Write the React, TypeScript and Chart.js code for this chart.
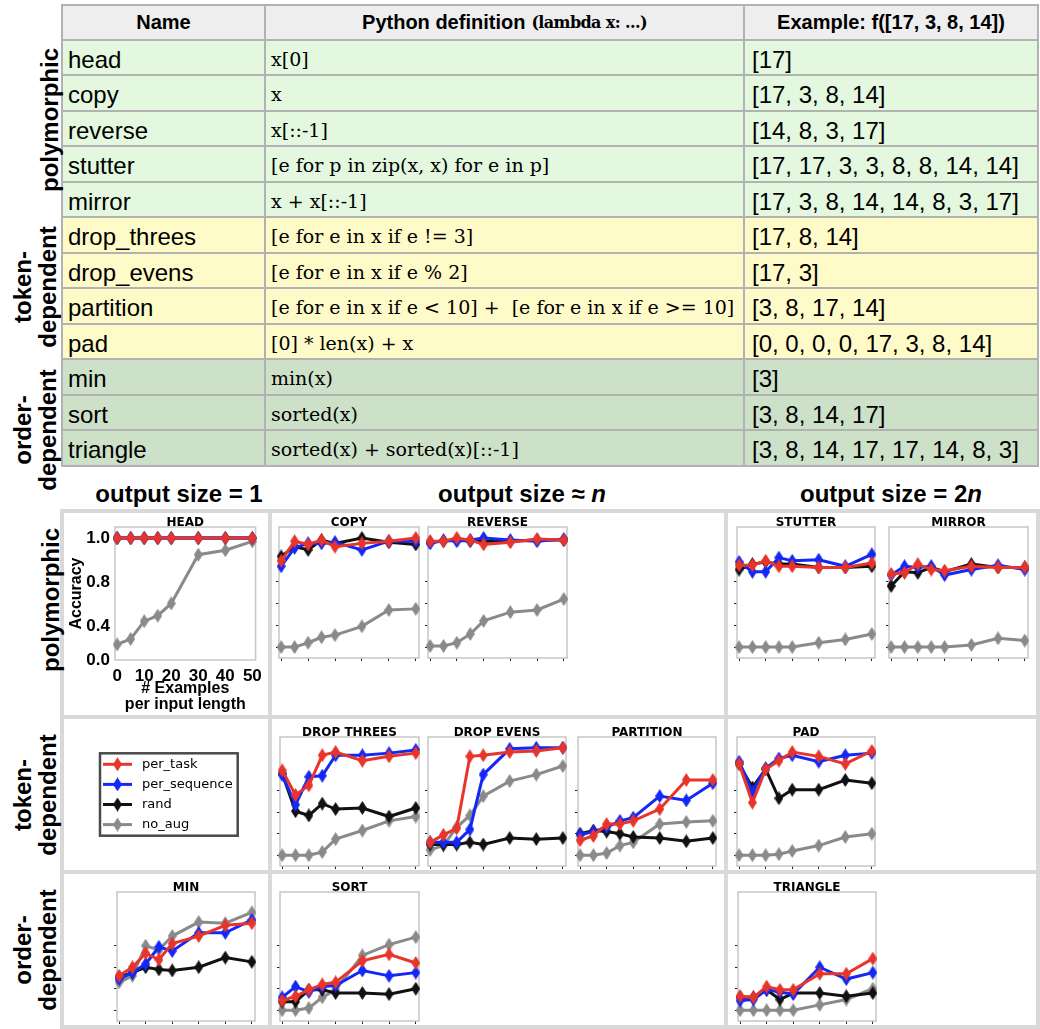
import React, { useEffect, useRef } from 'react';
import { Chart, registerables } from 'chart.js';

Chart.register(...registerables);

const SANS = '"Liberation Sans", Arial, Helvetica, sans-serif';
const SERIF = '"DejaVu Serif", serif';
const PLOT_FONT = '"DejaVu Sans", sans-serif';

// ---------------- table data ----------------
const TASK_NAMES = ['head', 'copy', 'reverse', 'stutter', 'mirror', 'drop_threes', 'drop_evens', 'partition', 'pad', 'min', 'sort', 'triangle'];
const TASK_DEFINITIONS = [
  'x[0]',
  'x',
  'x[::-1]',
  '[e for p in zip(x, x) for e in p]',
  'x + x[::-1]',
  '[e for e in x if e != 3]',
  '[e for e in x if e % 2]',
  '[e for e in x if e < 10] +  [e for e in x if e >= 10]',
  '[0] * len(x) + x',
  'min(x)',
  'sorted(x)',
  'sorted(x) + sorted(x)[::-1]',
];
const TASK_EXAMPLES = [
  '[17]',
  '[17, 3, 8, 14]',
  '[14, 8, 3, 17]',
  '[17, 17, 3, 3, 8, 8, 14, 14]',
  '[17, 3, 8, 14, 14, 8, 3, 17]',
  '[17, 8, 14]',
  '[17, 3]',
  '[3, 8, 17, 14]',
  '[0, 0, 0, 0, 17, 3, 8, 14]',
  '[3]',
  '[3, 8, 14, 17]',
  '[3, 8, 14, 17, 17, 14, 8, 3]',
];
const TASK_GROUPS = ['poly', 'poly', 'poly', 'poly', 'poly', 'token', 'token', 'token', 'token', 'order', 'order', 'order'];
const GROUP_COLORS: Record<string, string> = { poly: '#e3f8df', token: '#fffbc9', order: '#cde0c8' };

// ---------------- chart data ----------------
const X_VALUES = [0, 5, 10, 15, 20, 30, 40, 50];
const X_TICKS = [0, 10, 20, 30, 40, 50];
const X_TICK_LABELS = ['0', '10', '20', '30', '40', '50'];
const Y_TICKS = [0, 0.2, 0.4, 0.6, 0.8, 1.0];
const HEAD_Y_TICK_VALUES = [-0.1, 0.2, 0.6, 1.0];
const HEAD_Y_TICK_LABELS = ['0.0', '0.4', '0.8', '1.0'];
const Y_TITLE = 'Accuracy';
const X_TITLE_LINES = ['# Examples', 'per input length'];

const SERIES_NAMES = ['per_task', 'per_sequence', 'rand', 'no_aug'];
const SERIES_COLORS = ['#e8352b', '#1428f5', '#111111', '#8a8a8a'];

const HEAD_PER_TASK = [1, 1, 1, 1, 1, 1, 1, 1];
const HEAD_PER_SEQUENCE = [1, 1, 1, 1, 1, 1, 1, 1];
const HEAD_RAND = [1, 1, 1, 1, 1, 1, 1, 1];
const HEAD_NO_AUG = [0.04, 0.09, 0.25, 0.3, 0.41, 0.85, 0.89, 0.97];

const COPY_PER_TASK = [0.79, 0.97, 0.94, 0.98, 0.92, 0.95, 0.97, 1.0];
const COPY_PER_SEQUENCE = [0.74, 0.91, 0.95, 0.95, 0.96, 0.89, 0.97, 0.97];
const COPY_RAND = [0.83, 0.92, 0.89, 0.98, 0.95, 1.0, 0.96, 0.94];
const COPY_NO_AUG = [0.0, 0.0, 0.04, 0.09, 0.11, 0.19, 0.34, 0.35];

const REVERSE_PER_TASK = [0.97, 0.97, 1.0, 0.98, 0.94, 0.96, 0.99, 0.98];
const REVERSE_PER_SEQUENCE = [0.95, 0.98, 0.97, 0.98, 1.0, 0.98, 0.97, 0.99];
const REVERSE_RAND = [0.96, 0.97, 0.98, 0.97, 0.97, 0.97, 0.98, 0.98];
const REVERSE_NO_AUG = [0.01, 0.01, 0.04, 0.12, 0.24, 0.32, 0.34, 0.44];

const STUTTER_PER_TASK = [0.75, 0.75, 0.79, 0.74, 0.74, 0.73, 0.73, 0.77];
const STUTTER_PER_SEQUENCE = [0.78, 0.69, 0.69, 0.82, 0.79, 0.8, 0.74, 0.85];
const STUTTER_RAND = [0.71, 0.76, 0.78, 0.76, 0.76, 0.73, 0.73, 0.74];
const STUTTER_NO_AUG = [0.0, 0.0, 0.0, 0.0, 0.0, 0.04, 0.07, 0.12];

const MIRROR_PER_TASK = [0.67, 0.68, 0.76, 0.71, 0.7, 0.74, 0.73, 0.73];
const MIRROR_PER_SEQUENCE = [0.66, 0.74, 0.73, 0.74, 0.66, 0.71, 0.75, 0.71];
const MIRROR_RAND = [0.56, 0.69, 0.68, 0.73, 0.69, 0.76, 0.73, 0.73];
const MIRROR_NO_AUG = [0.0, 0.0, 0.0, 0.0, 0.0, 0.02, 0.08, 0.06];

const DROP_THREES_PER_TASK = [0.79, 0.56, 0.65, 0.93, 0.96, 0.88, 0.92, 0.95];
const DROP_THREES_PER_SEQUENCE = [0.75, 0.47, 0.73, 0.74, 0.93, 0.93, 0.95, 0.98];
const DROP_THREES_RAND = [0.76, 0.41, 0.37, 0.48, 0.43, 0.44, 0.36, 0.44];
const DROP_THREES_NO_AUG = [0.0, 0.0, 0.0, 0.03, 0.15, 0.23, 0.32, 0.36];

const DROP_EVENS_PER_TASK = [0.12, 0.19, 0.25, 0.92, 0.93, 0.96, 0.97, 1.0];
const DROP_EVENS_PER_SEQUENCE = [0.12, 0.12, 0.12, 0.24, 0.75, 0.99, 1.0, 1.0];
const DROP_EVENS_RAND = [0.1, 0.1, 0.1, 0.12, 0.1, 0.16, 0.15, 0.16];
const DROP_EVENS_NO_AUG = [0.05, 0.09, 0.26, 0.37, 0.55, 0.69, 0.75, 0.83];

const PARTITION_PER_TASK = [0.14, 0.18, 0.29, 0.29, 0.32, 0.43, 0.7, 0.7];
const PARTITION_PER_SEQUENCE = [0.19, 0.22, 0.26, 0.32, 0.35, 0.55, 0.51, 0.67];
const PARTITION_RAND = [0.2, 0.23, 0.22, 0.2, 0.17, 0.16, 0.13, 0.16];
const PARTITION_NO_AUG = [0.0, 0.0, 0.02, 0.09, 0.12, 0.29, 0.31, 0.32];

const PAD_PER_TASK = [0.85, 0.49, 0.8, 0.88, 0.96, 0.92, 0.85, 0.97];
const PAD_PER_SEQUENCE = [0.87, 0.59, 0.81, 0.9, 0.93, 0.87, 0.93, 0.95];
const PAD_RAND = [0.85, 0.63, 0.8, 0.53, 0.61, 0.61, 0.7, 0.67];
const PAD_NO_AUG = [0.0, 0.0, 0.0, 0.01, 0.04, 0.09, 0.17, 0.2];

const MIN_PER_TASK = [0.32, 0.4, 0.53, 0.47, 0.62, 0.69, 0.79, 0.81];
const MIN_PER_SEQUENCE = [0.29, 0.35, 0.43, 0.59, 0.55, 0.72, 0.72, 0.84];
const MIN_RAND = [0.31, 0.35, 0.4, 0.38, 0.37, 0.4, 0.49, 0.45];
const MIN_NO_AUG = [0.26, 0.32, 0.6, 0.56, 0.69, 0.82, 0.81, 0.91];

const SORT_PER_TASK = [0.09, 0.13, 0.19, 0.24, 0.26, 0.46, 0.52, 0.44];
const SORT_PER_SEQUENCE = [0.12, 0.22, 0.17, 0.22, 0.23, 0.37, 0.32, 0.35];
const SORT_RAND = [0.08, 0.08, 0.19, 0.19, 0.16, 0.16, 0.15, 0.2];
const SORT_NO_AUG = [0.0, 0.0, 0.02, 0.12, 0.19, 0.51, 0.61, 0.68];

const TRIANGLE_PER_TASK = [0.13, 0.12, 0.22, 0.19, 0.19, 0.34, 0.34, 0.48];
const TRIANGLE_PER_SEQUENCE = [0.09, 0.1, 0.19, 0.17, 0.15, 0.4, 0.29, 0.35];
const TRIANGLE_RAND = [0.12, 0.12, 0.19, 0.1, 0.16, 0.16, 0.13, 0.16];
const TRIANGLE_NO_AUG = [0.0, 0.0, 0.0, 0.0, 0.0, 0.05, 0.1, 0.2];

const PANELS = [
  { title: 'HEAD', series: [HEAD_PER_TASK, HEAD_PER_SEQUENCE, HEAD_RAND, HEAD_NO_AUG] },
  { title: 'COPY', series: [COPY_PER_TASK, COPY_PER_SEQUENCE, COPY_RAND, COPY_NO_AUG] },
  { title: 'REVERSE', series: [REVERSE_PER_TASK, REVERSE_PER_SEQUENCE, REVERSE_RAND, REVERSE_NO_AUG] },
  { title: 'STUTTER', series: [STUTTER_PER_TASK, STUTTER_PER_SEQUENCE, STUTTER_RAND, STUTTER_NO_AUG] },
  { title: 'MIRROR', series: [MIRROR_PER_TASK, MIRROR_PER_SEQUENCE, MIRROR_RAND, MIRROR_NO_AUG] },
  { title: 'DROP THREES', series: [DROP_THREES_PER_TASK, DROP_THREES_PER_SEQUENCE, DROP_THREES_RAND, DROP_THREES_NO_AUG] },
  { title: 'DROP EVENS', series: [DROP_EVENS_PER_TASK, DROP_EVENS_PER_SEQUENCE, DROP_EVENS_RAND, DROP_EVENS_NO_AUG] },
  { title: 'PARTITION', series: [PARTITION_PER_TASK, PARTITION_PER_SEQUENCE, PARTITION_RAND, PARTITION_NO_AUG] },
  { title: 'PAD', series: [PAD_PER_TASK, PAD_PER_SEQUENCE, PAD_RAND, PAD_NO_AUG] },
  { title: 'MIN', series: [MIN_PER_TASK, MIN_PER_SEQUENCE, MIN_RAND, MIN_NO_AUG] },
  { title: 'SORT', series: [SORT_PER_TASK, SORT_PER_SEQUENCE, SORT_RAND, SORT_NO_AUG] },
  { title: 'TRIANGLE', series: [TRIANGLE_PER_TASK, TRIANGLE_PER_SEQUENCE, TRIANGLE_RAND, TRIANGLE_NO_AUG] },
];

// ---------------- layout (plot frames: left, top, right, bottom) ----------------
const PANEL_FRAMES: Record<string, number[]> = {
  HEAD: [115, 527, 257, 660],
  COPY: [277, 527, 421, 660],
  REVERSE: [426, 527, 569, 660],
  STUTTER: [735, 527, 877, 660],
  MIRROR: [887, 527, 1030, 660],
  'DROP THREES': [278, 737, 421, 868],
  'DROP EVENS': [426, 737, 568, 868],
  PARTITION: [576, 737, 718, 868],
  PAD: [735, 737, 877, 868],
  MIN: [115, 892, 257, 1023],
  SORT: [278, 892, 421, 1023],
  TRIANGLE: [736, 892, 878, 1023],
};

const markerCache: Record<string, HTMLCanvasElement> = {};
function diamond(color: string): HTMLCanvasElement {
  if (markerCache[color]) return markerCache[color];
  const w = 9;
  const h = 14;
  const c = document.createElement('canvas');
  c.width = w;
  c.height = h;
  const ctx = c.getContext('2d')!;
  ctx.fillStyle = color;
  ctx.beginPath();
  ctx.moveTo(w / 2, 0);
  ctx.lineTo(w, h / 2);
  ctx.lineTo(w / 2, h);
  ctx.lineTo(0, h / 2);
  ctx.closePath();
  ctx.fill();
  markerCache[color] = c;
  return c;
}

const decorPlugin = {
  id: 'panelDecor',
  beforeDatasetsDraw(chart: any) {
    const { ctx, chartArea: a } = chart;
    ctx.save();
    ctx.strokeStyle = '#c6c6c6';
    ctx.lineWidth = 1.5;
    ctx.strokeRect(a.left, a.top, a.right - a.left, a.bottom - a.top);
    ctx.restore();
  },
  afterDraw(chart: any, _args: any, opts: any) {
    if (!opts || !opts.title) return;
    const { ctx, chartArea: a } = chart;
    ctx.save();
    ctx.fillStyle = '#000';
    ctx.font = `bold 12px ${PLOT_FONT}`;
    ctx.textAlign = 'center';
    ctx.textBaseline = 'alphabetic';
    ctx.fillText(opts.title, (a.left + a.right) / 2, a.top - 1.5);
    ctx.restore();
  },
};

function SmallChart({ panel }: { panel: { title: string; series: number[][] } }) {
  const ref = useRef<HTMLCanvasElement>(null);
  const f = PANEL_FRAMES[panel.title];
  const isHead = panel.title === 'HEAD';
  const m = isHead ? { l: 55, t: 14, r: 8, b: 55 } : { l: 6, t: 14, r: 6, b: 6 };
  const left = f[0] - m.l;
  const top = f[1] - m.t;
  const width = f[2] - f[0] + m.l + m.r;
  const height = f[3] - f[1] + m.t + m.b;

  useEffect(() => {
    const datasets = panel.series.map((vals, i) => ({
      label: SERIES_NAMES[i],
      data: X_VALUES.map((x, j) => ({ x, y: vals[j] })),
      borderColor: SERIES_COLORS[i],
      backgroundColor: SERIES_COLORS[i],
      borderWidth: 3,
      pointStyle: diamond(SERIES_COLORS[i]),
      pointRadius: 5,
      tension: 0,
      clip: false,
    }));
    const boldFont = (size: number, lineHeight = 1.2) => ({ family: SANS, size, weight: 'bold' as const, lineHeight });
    const chart = new Chart(ref.current!, {
      type: 'line',
      data: { datasets },
      options: {
        animation: false,
        responsive: false,
        devicePixelRatio: 1,
        layout: { padding: { top: m.t, right: m.r, left: 0, bottom: 0 } },
        plugins: {
          legend: { display: false },
          tooltip: { enabled: false },
          title: { display: false },
          panelDecor: { title: panel.title },
        } as any,
        scales: {
          x: {
            type: 'linear',
            min: -0.8,
            max: 51.2,
            afterBuildTicks: (s: any) => {
              s.ticks = X_TICKS.map((v) => ({ value: v }));
            },
            afterFit: (s: any) => {
              s.height = m.b;
            },
            grid: { display: !isHead, drawOnChartArea: false, drawTicks: true, tickLength: 3, tickColor: '#222', lineWidth: 1 },
            border: { display: false },
            ticks: {
              display: isHead,
              autoSkip: false,
              maxRotation: 0,
              padding: 3,
              color: '#000',
              font: boldFont(17),
              callback: (_v: any, i: number) => X_TICK_LABELS[i],
            },
            title: {
              display: isHead,
              text: X_TITLE_LINES,
              color: '#000',
              font: boldFont(16, 1),
              padding: { top: 0, bottom: 2 },
            },
          },
          y: {
            type: 'linear',
            min: -0.1,
            max: 1.1,
            afterBuildTicks: (s: any) => {
              s.ticks = (isHead ? HEAD_Y_TICK_VALUES : Y_TICKS).map((v) => ({ value: v }));
            },
            afterFit: (s: any) => {
              s.width = m.l;
            },
            grid: { display: !isHead, drawOnChartArea: false, drawTicks: true, tickLength: 3, tickColor: '#222', lineWidth: 1 },
            border: { display: false },
            ticks: {
              display: isHead,
              autoSkip: false,
              padding: 2,
              color: '#000',
              font: boldFont(17),
              callback: (_v: any, i: number) => HEAD_Y_TICK_LABELS[i],
            },
            title: {
              display: isHead,
              text: Y_TITLE,
              color: '#000',
              font: boldFont(16),
              padding: { top: 7, bottom: 0 },
            },
          },
        },
      } as any,
      plugins: [decorPlugin],
    });
    return () => chart.destroy();
  }, []);

  return <canvas ref={ref} width={width} height={height} style={{ position: 'absolute', left, top, width, height }} />;
}

const legendPlugin = {
  id: 'legendBox',
  afterDraw(chart: any) {
    const { ctx } = chart;
    ctx.save();
    ctx.strokeStyle = '#4a4a4a';
    ctx.lineWidth = 2.5;
    ctx.strokeRect(4, 4.3, 137.7, 82.4);
    chart.data.datasets.forEach((ds: any, i: number) => {
      const y = 15.3 + i * 20.1;
      ctx.strokeStyle = ds.borderColor;
      ctx.lineWidth = 3;
      ctx.beginPath();
      ctx.moveTo(7, y);
      ctx.lineTo(36, y);
      ctx.stroke();
      const mk = diamond(ds.borderColor);
      ctx.drawImage(mk, 21.5 - mk.width / 2, y - mk.height / 2);
      ctx.fillStyle = '#000';
      ctx.font = `13px ${PLOT_FONT}`;
      ctx.textAlign = 'left';
      ctx.textBaseline = 'middle';
      ctx.fillText(ds.label, 46, y);
    });
    ctx.restore();
  },
};

function LegendChart() {
  const ref = useRef<HTMLCanvasElement>(null);
  useEffect(() => {
    const chart = new Chart(ref.current!, {
      type: 'line',
      data: {
        datasets: SERIES_NAMES.map((n, i) => ({ label: n, data: [], borderColor: SERIES_COLORS[i], backgroundColor: SERIES_COLORS[i] })),
      },
      options: {
        animation: false,
        responsive: false,
        devicePixelRatio: 1,
        scales: { x: { display: false }, y: { display: false } },
        plugins: { legend: { display: false }, tooltip: { enabled: false } },
      } as any,
      plugins: [legendPlugin],
    });
    return () => chart.destroy();
  }, []);
  return <canvas ref={ref} width={146} height={91} style={{ position: 'absolute', left: 96, top: 749, width: 146, height: 91 }} />;
}

function RotLabel({ text, cx, cy }: { text: string; cx: number; cy: number }) {
  return (
    <div
      style={{
        position: 'absolute',
        left: cx,
        top: cy,
        transform: 'translate(-50%, -50%) rotate(-90deg)',
        whiteSpace: 'pre',
        textAlign: 'center',
        fontWeight: 'bold',
        fontSize: 24,
        lineHeight: '25px',
        fontFamily: SANS,
        color: '#000',
      }}
    >
      {text}
    </div>
  );
}

const BORDER = '2px solid #b2b2b2';

function TaskTable() {
  const cellBase: React.CSSProperties = {
    borderRight: BORDER,
    borderBottom: BORDER,
    boxSizing: 'border-box',
    display: 'flex',
    alignItems: 'center',
    whiteSpace: 'pre',
    overflow: 'hidden',
    color: '#000',
  };
  const header: React.CSSProperties = {
    ...cellBase,
    background: '#eeeeee',
    justifyContent: 'center',
    fontFamily: SANS,
    fontWeight: 'bold',
    fontSize: 20,
  };
  const cells: React.ReactNode[] = [
    <div key="h1" style={header}>Name</div>,
    <div key="h2" style={header}>
      Python definition
      <span style={{ fontFamily: SERIF, fontWeight: 'bold', fontSize: 16, letterSpacing: -0.6, marginLeft: 6 }}>(lambda x: ...)</span>
    </div>,
    <div key="h3" style={header}>Example: f([17, 3, 8, 14])</div>,
  ];
  TASK_NAMES.forEach((name, i) => {
    const bg = GROUP_COLORS[TASK_GROUPS[i]];
    cells.push(
      <div key={'n' + i} style={{ ...cellBase, background: bg, fontFamily: SANS, fontSize: 24, paddingLeft: 5, paddingTop: 5 }}>{name}</div>,
      <div key={'d' + i} style={{ ...cellBase, background: bg, fontFamily: SERIF, fontSize: 19, paddingLeft: 5, paddingTop: 3 }}>{TASK_DEFINITIONS[i]}</div>,
      <div key={'e' + i} style={{ ...cellBase, background: bg, fontFamily: SANS, fontSize: 24, paddingLeft: 7, paddingTop: 5 }}>{TASK_EXAMPLES[i]}</div>
    );
  });
  return (
    <div
      style={{
        position: 'absolute',
        left: 61,
        top: 4,
        display: 'grid',
        gridTemplateColumns: '203px 479px 294px',
        gridTemplateRows: '34.5px repeat(12, 35.5px)',
        borderLeft: BORDER,
        borderTop: BORDER,
      }}
    >
      {cells}
    </div>
  );
}

const GRID_COLOR = '#d9d9d9';

function Heading({ cx, children }: { cx: number; children: React.ReactNode }) {
  return (
    <div
      style={{
        position: 'absolute',
        left: cx,
        top: 494,
        transform: 'translate(-50%, -50%)',
        whiteSpace: 'nowrap',
        fontFamily: SANS,
        fontWeight: 'bold',
        fontSize: 24,
        color: '#000',
      }}
    >
      {children}
    </div>
  );
}

export default function App() {
  return (
    <div style={{ position: 'absolute', left: 0, top: 0, width: 1040, height: 1029, background: '#fff', overflow: 'hidden' }}>
      <TaskTable />
      <RotLabel text="polymorphic" cx={49} cy={120} />
      <RotLabel text={'token-\ndependent'} cx={35} cy={287} />
      <RotLabel text={'order-\ndependent'} cx={35} cy={430} />

      <Heading cx={179}>output size = 1</Heading>
      <Heading cx={522}>
        output size ≈ <i>n</i>
      </Heading>
      <Heading cx={891}>
        output size = 2<i>n</i>
      </Heading>

      {/* panel grid */}
      <div style={{ position: 'absolute', left: 60, top: 509, width: 980, height: 520, border: `4px solid ${GRID_COLOR}`, boxSizing: 'border-box' }} />
      <div style={{ position: 'absolute', left: 268, top: 509, width: 4, height: 520, background: GRID_COLOR }} />
      <div style={{ position: 'absolute', left: 724, top: 509, width: 4, height: 520, background: GRID_COLOR }} />
      <div style={{ position: 'absolute', left: 60, top: 715, width: 980, height: 4, background: GRID_COLOR }} />
      <div style={{ position: 'absolute', left: 60, top: 870, width: 980, height: 4, background: GRID_COLOR }} />

      <RotLabel text="polymorphic" cx={50} cy={600} />
      <RotLabel text={'token-\ndependent'} cx={35} cy={795} />
      <RotLabel text={'order-\ndependent'} cx={35} cy={950} />

      {PANELS.map((p) => (
        <SmallChart key={p.title} panel={p} />
      ))}
      <LegendChart />
    </div>
  );
}
